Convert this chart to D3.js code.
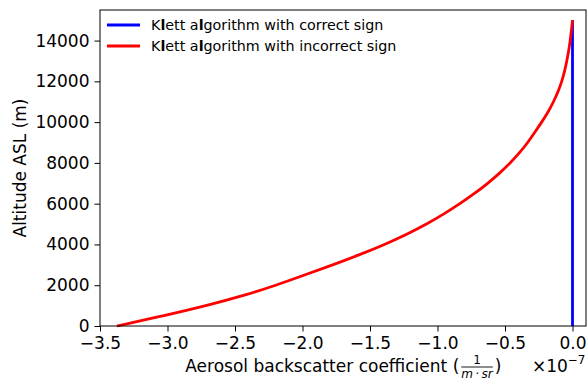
<!DOCTYPE html>
<html>
<head>
<meta charset="utf-8">
<script src="https://cdn.jsdelivr.net/npm/d3@7"></script>
<style>
  body { margin: 0; background: #fff; }
  svg { display: block; font-family: "DejaVu Sans", sans-serif; }
</style>
</head>
<body>
<div id="chart"></div>
<script>
// altitude (m) and backscatter values (x 1e-7)
const altitudes = [0, 500, 1000, 1500, 2000, 2500, 3000, 3500, 4000, 4500, 5000, 5500, 6000, 6500, 7000, 7500, 8000, 8500, 9000, 9500, 10000, 10500, 11000, 11500, 12000, 12500, 13000, 13500, 14000, 14500, 15000];
const incorrectSign = [-3.375, -3.03, -2.71, -2.43, -2.195, -1.985, -1.775, -1.575, -1.39, -1.225, -1.079, -0.951, -0.833, -0.725, -0.627, -0.539, -0.461, -0.391, -0.331, -0.279, -0.228, -0.18, -0.14, -0.106, -0.079, -0.058, -0.042, -0.028, -0.017, -0.008, 0.0];
const correctSignAlt = [0, 15000];
const correctSign = [0.0, 0.0];
const xTicks = [-3.5, -3.0, -2.5, -2.0, -1.5, -1.0, -0.5, 0.0];
const yTicks = [0, 2000, 4000, 6000, 8000, 10000, 12000, 14000];
const seriesNames = ["Klett algorithm with correct sign", "Klett algorithm with incorrect sign"];
const seriesColors = ["#0000ff", "#ff0000"];

const W = 588, H = 381;
const margin = { top: 10, right: 2, bottom: 55, left: 100 };
const width = W - margin.left - margin.right;
const height = H - margin.top - margin.bottom;
const fs = 17;

const svg = d3.select('#chart').append('svg')
  .attr('width', W)
  .attr('height', H);

const g = svg.append('g')
  .attr('transform', `translate(${margin.left}, ${margin.top})`);

const x = d3.scaleLinear().domain([-3.5, 0.1]).range([0, width]);
const y = d3.scaleLinear().domain([0, 15500]).range([height, 0]);

const fmtMinus = v => d3.format('.1f')(v).replace('-', '\u2212');

// lines (basis curve to smooth out reading noise)
const line = d3.line()
  .x(d => x(d[0]))
  .y(d => y(d[1]))
  .curve(d3.curveBasis);

const series = [
  correctSign.map((v, j) => [v, correctSignAlt[j]]),
  incorrectSign.map((v, j) => [v, altitudes[j]])
];
series.forEach((pts, i) => {
  g.append('path')
    .datum(pts)
    .attr('fill', 'none')
    .attr('stroke', seriesColors[i])
    .attr('stroke-width', 2.8)
    .attr('d', line);
});

// frame
g.append('rect')
  .attr('width', width)
  .attr('height', height)
  .attr('fill', 'none')
  .attr('stroke', '#000')
  .attr('stroke-width', 1);

// axes
const xAxis = g.append('g')
  .attr('transform', `translate(0, ${height})`)
  .call(d3.axisBottom(x).tickValues(xTicks).tickSize(5.5).tickPadding(5).tickFormat(fmtMinus));
const yAxis = g.append('g')
  .call(d3.axisLeft(y).tickValues(yTicks).tickSize(5.5).tickPadding(5).tickFormat(d3.format('d')));

[xAxis, yAxis].forEach(a => {
  a.select('.domain').remove();
  a.selectAll('text')
    .attr('font-family', '"DejaVu Sans", sans-serif')
    .attr('font-size', fs)
    .attr('fill', '#000');
  a.selectAll('line').attr('stroke', '#000');
});

// y label
svg.append('text')
  .attr('transform', `translate(26, ${margin.top + height / 2}) rotate(-90)`)
  .attr('text-anchor', 'middle')
  .attr('font-size', fs)
  .text('Altitude ASL (m)');

// x label with fraction
const xl = svg.append('g');
const xlText = xl.append('text')
  .attr('x', 0)
  .attr('y', 0)
  .attr('font-size', fs)
  .text('Aerosol backscatter coefficient (');
const wMain = xlText.node().getComputedTextLength();
const fracSize = 12;
const frac = xl.append('g').attr('transform', `translate(${wMain + 2}, 0)`);
const den = frac.append('text')
  .attr('y', 6)
  .attr('font-size', fracSize)
  .attr('font-style', 'italic')
  .text('m\u2009\u00b7\u2009sr');
const wDen = den.node().getComputedTextLength();
frac.append('text')
  .attr('x', wDen / 2)
  .attr('y', -8)
  .attr('text-anchor', 'middle')
  .attr('font-size', fracSize)
  .text('1');
frac.append('line')
  .attr('x1', 0).attr('x2', wDen)
  .attr('y1', -5).attr('y2', -5)
  .attr('stroke', '#000')
  .attr('stroke-width', 0.9);
xl.append('text')
  .attr('x', wMain + wDen + 4)
  .attr('y', 0)
  .attr('font-size', fs)
  .text(')');
const wAll = wMain + wDen + 4 + 6;
xl.attr('transform', `translate(${margin.left + width / 2 - wAll / 2}, 372)`);

// offset text
const off = svg.append('text')
  .attr('x', 532)
  .attr('y', 372)
  .attr('font-size', fs);
off.append('tspan').text('\u00d710');
off.append('tspan').attr('dy', -8).attr('font-size', fs * 0.7).text('\u22127');

// legend
const legend = g.append('g').attr('transform', 'translate(7, 15)');
seriesNames.forEach((name, i) => {
  const row = legend.append('g').attr('transform', `translate(0, ${i * 21})`);
  row.append('line')
    .attr('x1', 0).attr('x2', 33)
    .attr('stroke', seriesColors[i])
    .attr('stroke-width', 2.8);
  const t = row.append('text')
    .attr('x', 44)
    .attr('y', 5)
    .attr('font-size', 14.3);
  // the "l" glyphs render heavier in the source image
  name.split(/(l)/).forEach(part => {
    if (part === 'l') t.append('tspan').attr('font-weight', 'bold').text(part);
    else if (part) t.append('tspan').text(part);
  });
});
</script>
</body>
</html>
